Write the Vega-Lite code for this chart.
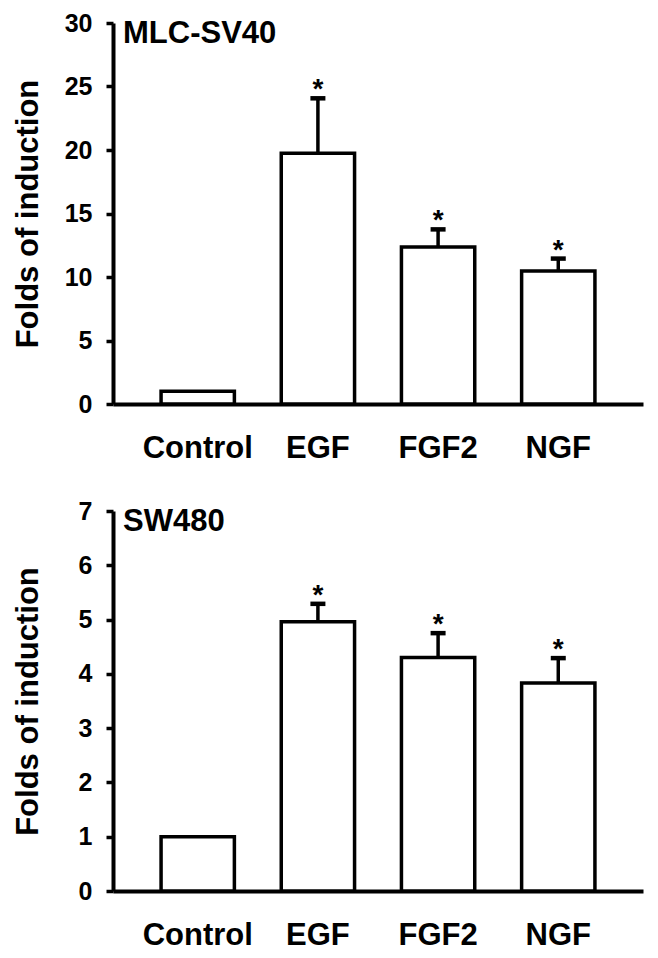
{
  "$schema": "https://vega.github.io/schema/vega-lite/v6.json",
  "background": "white",
  "padding": {"left": 12, "top": 11, "right": 10, "bottom": 6},
  "spacing": 36,
  "config": {
    "font": "Liberation Sans",
    "view": {"stroke": null},
    "axis": {
      "domainColor": "black", "domainWidth": 4, "tickColor": "black", "tickWidth": 3.5,
      "labelColor": "black", "titleColor": "black", "labelFont": "Liberation Sans", "titleFont": "Liberation Sans",
      "labelFontWeight": "bold", "titleFontWeight": "bold", "grid": false
    }
  },
  "vconcat": [
    {
      "width": 530, "height": 381,
      "data": {"values": [
        {"group": "Control", "value": 1, "upper": 1, "sig": ""},
        {"group": "EGF", "value": 19.74, "upper": 24.07, "sig": "*"},
        {"group": "FGF2", "value": 12.36, "upper": 13.75, "sig": "*"},
        {"group": "NGF", "value": 10.47, "upper": 11.45, "sig": "*"}
      ]},
      "title": {"text": "MLC-SV40", "anchor": "start", "frame": "group", "dx": 10, "offset": -39, "baseline": "top", "fontSize": 31, "fontWeight": "bold", "font": "Liberation Sans", "color": "black"},
      "encoding": {
        "x": {"field": "group", "type": "nominal", "sort": null, "scale": {"paddingInner": 0.39, "paddingOuter": 0.4},
              "axis": {"title": null, "labelAngle": 0, "ticks": false, "labelPadding": 29, "labelFontSize": 31}}
      },
      "layer": [
        {"mark": {"type": "bar", "fill": "white", "stroke": "black", "strokeWidth": 3.5},
         "encoding": {"y": {"field": "value", "type": "quantitative", "scale": {"domain": [0, 30]},
           "axis": {"values": [0, 5, 10, 15, 20, 25, 30], "format": "d", "title": "Folds of induction", "titleFontSize": 31, "labelFontSize": 25, "tickSize": 7, "labelPadding": 14, "titlePadding": 20}}}},
        {"transform": [{"filter": "datum.upper > datum.value"}],
         "mark": {"type": "rule", "strokeWidth": 3.5, "color": "black"},
         "encoding": {"y": {"field": "value", "type": "quantitative"}, "y2": {"field": "upper"}}},
        {"transform": [{"filter": "datum.upper > datum.value"}],
         "mark": {"type": "tick", "color": "black", "opacity": 1, "size": 15, "thickness": 4.5},
         "encoding": {"y": {"field": "upper", "type": "quantitative"}}},
        {"mark": {"type": "text", "fontSize": 28, "fontWeight": "bold", "baseline": "alphabetic", "dy": 0, "color": "black"},
         "encoding": {"y": {"field": "upper", "type": "quantitative"}, "text": {"field": "sig"}}}
      ]
    },
    {
      "width": 530, "height": 380,
      "data": {"values": [
        {"group": "Control", "value": 1, "upper": 1, "sig": ""},
        {"group": "EGF", "value": 4.96, "upper": 5.29, "sig": "*"},
        {"group": "FGF2", "value": 4.3, "upper": 4.75, "sig": "*"},
        {"group": "NGF", "value": 3.83, "upper": 4.29, "sig": "*"}
      ]},
      "title": {"text": "SW480", "anchor": "start", "frame": "group", "dx": 10, "offset": -39, "baseline": "top", "fontSize": 31, "fontWeight": "bold", "font": "Liberation Sans", "color": "black"},
      "encoding": {
        "x": {"field": "group", "type": "nominal", "sort": null, "scale": {"paddingInner": 0.39, "paddingOuter": 0.4},
              "axis": {"title": null, "labelAngle": 0, "ticks": false, "labelPadding": 29, "labelFontSize": 31}}
      },
      "layer": [
        {"mark": {"type": "bar", "fill": "white", "stroke": "black", "strokeWidth": 3.5},
         "encoding": {"y": {"field": "value", "type": "quantitative", "scale": {"domain": [0, 7]},
           "axis": {"values": [0, 1, 2, 3, 4, 5, 6, 7], "format": "d", "title": "Folds of induction", "titleFontSize": 31, "labelFontSize": 25, "tickSize": 7, "labelPadding": 14, "titlePadding": 34}}}},
        {"transform": [{"filter": "datum.upper > datum.value"}],
         "mark": {"type": "rule", "strokeWidth": 3.5, "color": "black"},
         "encoding": {"y": {"field": "value", "type": "quantitative"}, "y2": {"field": "upper"}}},
        {"transform": [{"filter": "datum.upper > datum.value"}],
         "mark": {"type": "tick", "color": "black", "opacity": 1, "size": 15, "thickness": 4.5},
         "encoding": {"y": {"field": "upper", "type": "quantitative"}}},
        {"mark": {"type": "text", "fontSize": 28, "fontWeight": "bold", "baseline": "alphabetic", "dy": 0, "color": "black"},
         "encoding": {"y": {"field": "upper", "type": "quantitative"}, "text": {"field": "sig"}}}
      ]
    }
  ]
}
